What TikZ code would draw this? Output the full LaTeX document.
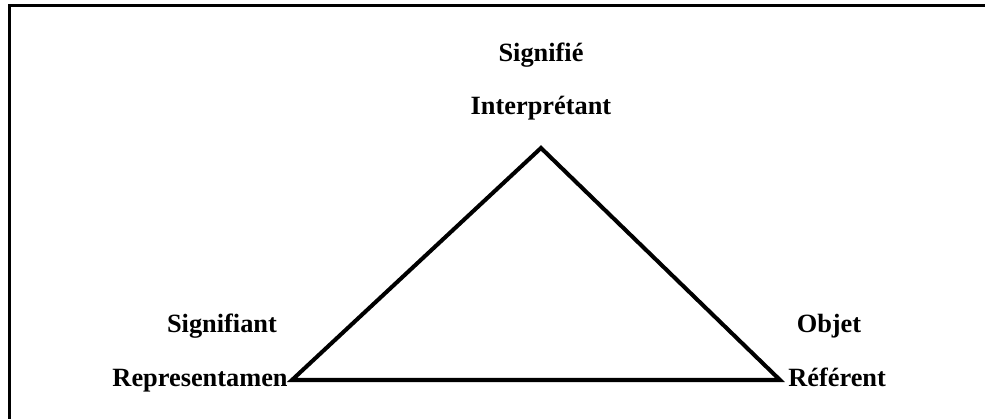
\documentclass[tikz,border=0pt]{standalone}
\usepackage{fontspec}
\setmainfont{Liberation Serif}
\usepackage{tikz}
\usetikzlibrary{positioning}

\begin{document}
\begin{tikzpicture}[
            x=0.02cm,
            y=0.02cm,
            lbl/.style={font=\fontsize{15}{18}\selectfont\bfseries, inner sep=0pt, anchor=base},
            side/.style={line width=2.3pt, line join=miter},
            frame/.style={line width=1.7pt},
        ]
        \useasboundingbox (0,0) rectangle (985,419);

        % Draw the frame (only top and left edges fall inside the picture)
        \draw[frame] (9.5,-10) -- (9.5,413.5) -- (995,413.5);

        % Corners of the triangle
        \coordinate (top) at (541,271);
        \coordinate (left) at (292,39);
        \coordinate (right) at (780,39);

        % Draw the labels
        \node[lbl] (signifie) at (541,357) {Signifié};
        \node[lbl] (interp) at (541,304) {Interprétant};
        \node[lbl] (signifiant) at (222,86) {Signifiant};
        \node[lbl, anchor=base east] (repr) at (288,32) {Representamen};
        \node[lbl] (objet) at (829,86) {Objet};
        \node[lbl, anchor=base west] (referent) at (788,32) {Référent};

        % Draw the triangle
        \draw[side] (left) -- (top) -- (right) -- cycle;
    \end{tikzpicture}
\end{document}
